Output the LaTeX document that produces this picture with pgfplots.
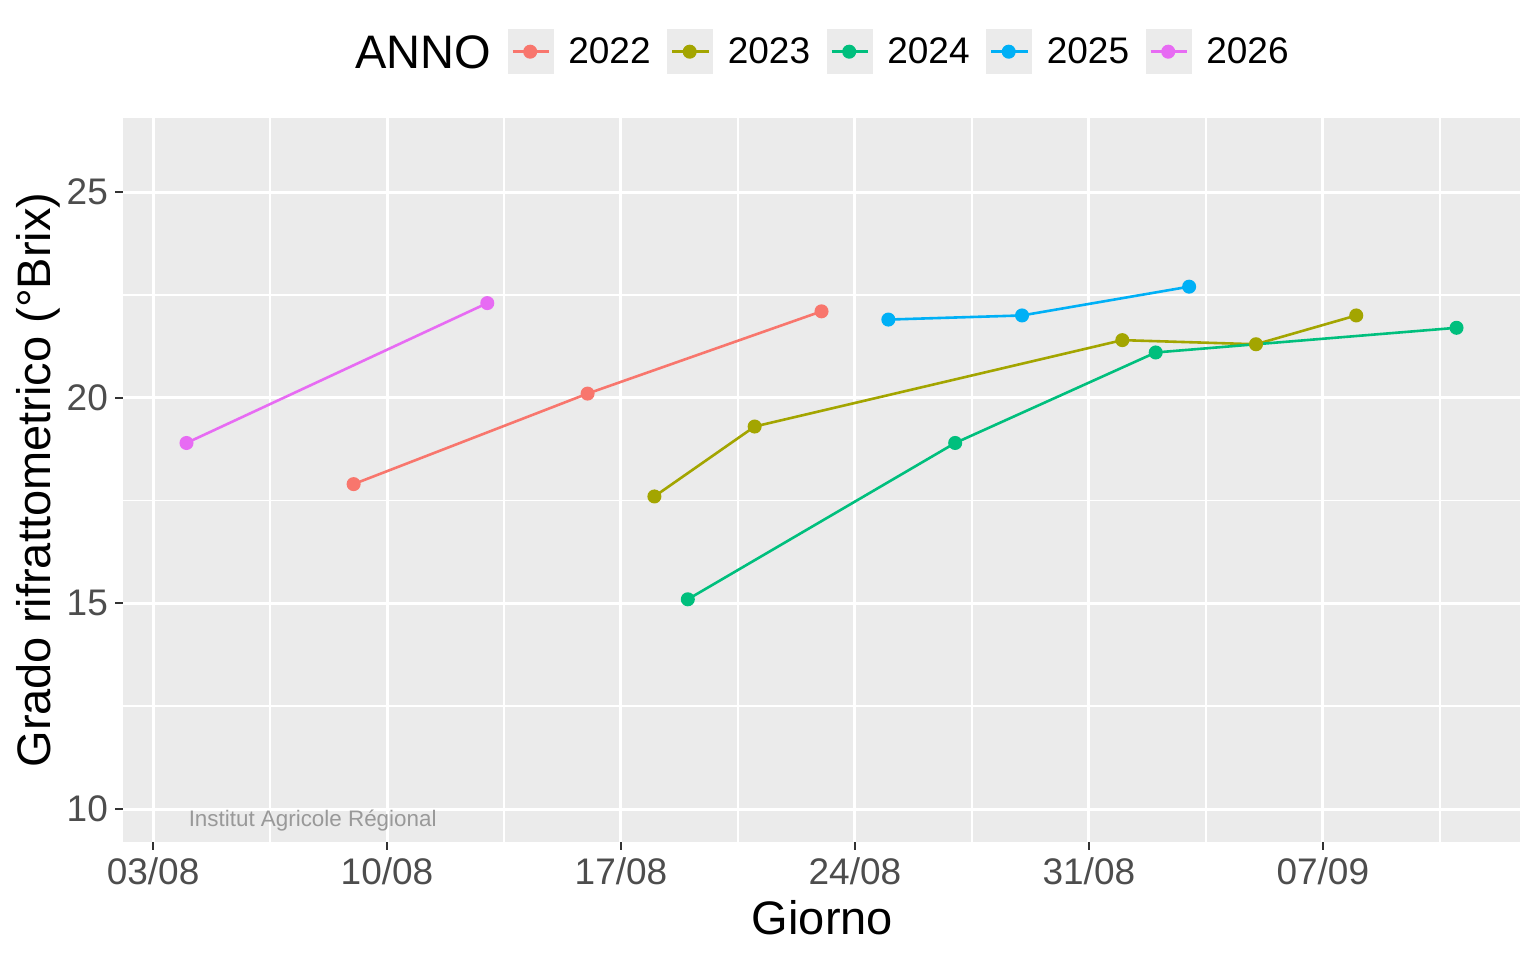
\documentclass[border=0pt]{standalone}
\usepackage{fontspec}
\setmainfont{Liberation Sans}
\usepackage{pgfplots}
\pgfplotsset{compat=1.18}
\definecolor{c22}{HTML}{F8766D}
\definecolor{c23}{HTML}{A3A500}
\definecolor{c24}{HTML}{00BF7D}
\definecolor{c25}{HTML}{00B0F6}
\definecolor{c26}{HTML}{E76BF3}
\definecolor{panelbg}{HTML}{EBEBEB}
\definecolor{keybg}{HTML}{EBEBEB}
\definecolor{tickc}{HTML}{333333}
\definecolor{ticklab}{HTML}{4D4D4D}
\definecolor{wm}{HTML}{999999}
\begin{document}
\begin{tikzpicture}
\useasboundingbox (0,0) rectangle (768pt,480pt);
\begin{axis}[
  at={(61.5pt,59pt)}, anchor=south west,
  scale only axis, width=698.5pt, height=362pt,
  xmin=-0.9, xmax=40.9, ymin=9.2, ymax=26.8,
  axis background/.style={fill=panelbg},
  axis line style={draw=none},
  xtick={0,7,14,21,28,35},
  xticklabels={03/08,10/08,17/08,24/08,31/08,07/09},
  ytick={10,15,20,25},
  yticklabels={10,15,20,25},
  minor xtick={3.5,10.5,17.5,24.5,31.5,38.5},
  minor ytick={12.5,17.5,22.5},
  xmajorgrids=true, ymajorgrids=true,
  xminorgrids=true, yminorgrids=true,
  major grid style={color=white, line width=1.5pt},
  minor grid style={color=white, line width=0.85pt},
  tick align=outside, tick pos=left,
  major tick length=3.85pt, minor tick length=0pt,
  tick style={color=tickc, line width=1pt},
  ticklabel style={font=\fontsize{18.5}{22}\selectfont, text=ticklab, inner sep=0pt},
  xticklabel style={anchor=north, yshift=-3.6pt},
  yticklabel style={anchor=east, xshift=-3.5pt},
  every axis plot/.append style={line width=1.3pt, mark=*, mark size=2.85pt, mark options={draw=none}},
  legend columns=-1,
  legend style={at={(0.27538,1.09158)}, anchor=west, draw=none, fill=none,
    inner sep=0pt, outer sep=0pt,
    nodes={inner sep=0pt, outer sep=0pt, text=black, font=\fontsize{18.5}{22}\selectfont},
    /tikz/every odd column/.append style={column sep=7.3pt},
    /tikz/every even column/.append style={column sep=8.3pt}},
  legend image code/.code={
    \fill[keybg, draw=none] (0pt,-11.25pt) rectangle (23pt,11.25pt);
    \draw[#1, mark repeat=2, mark phase=2] plot coordinates {(2.5pt,0pt) (11.25pt,0pt) (20.8pt,0pt)};
  },
]
\addplot[color=c22, mark options={fill=c22}] coordinates {(6,17.9) (13,20.1) (20,22.1)};
\addlegendentry{2022}
\addplot[color=c23, mark options={fill=c23}] coordinates {(15,17.6) (18,19.3) (29,21.4) (33,21.3) (36,22.0)};
\addlegendentry{2023}
\addplot[color=c24, mark options={fill=c24}] coordinates {(16,15.1) (24,18.9) (30,21.1) (39,21.7)};
\addlegendentry{2024}
\addplot[color=c25, mark options={fill=c25}] coordinates {(22,21.9) (26,22.0) (31,22.7)};
\addlegendentry{2025}
\addplot[color=c26, mark options={fill=c26}] coordinates {(1,18.9) (10,22.3)};
\addlegendentry{2026}
\node[anchor=base west, inner sep=0pt, text=wm, font=\fontsize{11.2}{13}\selectfont] at (axis cs:1.056,9.57) {Institut Agricole Régional};
\end{axis}
\node[anchor=base east, inner sep=0pt, font=\fontsize{23.5}{28}\selectfont] at (245.85pt,445.85pt) {ANNO};
\node[anchor=base, inner sep=0pt, font=\fontsize{23.5}{28}\selectfont] at (411.25pt,13pt) {Giorno};
\node[anchor=base, rotate=90, inner sep=0pt, font=\fontsize{23.5}{28}\selectfont] at (25pt,240pt) {Grado rifrattometrico (°Brix)};
\end{tikzpicture}
\end{document}
